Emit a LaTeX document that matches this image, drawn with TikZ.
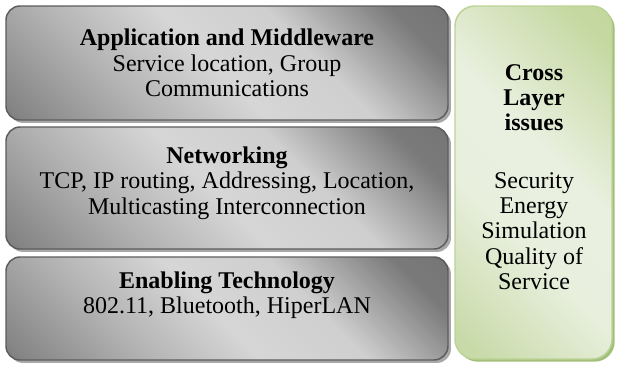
\documentclass[tikz,border=0pt]{standalone}
\usepackage{fontspec}
\setmainfont{Liberation Serif}
\usetikzlibrary{shadows}

\definecolor{layerline}{HTML}{5C5C5C}
\definecolor{layershadow}{HTML}{A8A8A8}
\definecolor{crossline}{HTML}{BCD396}
\definecolor{crossshadow}{HTML}{A3C07A}

% diagonal metallic gradient for the layer boxes
\pgfdeclarehorizontalshading{layershade}{100bp}{%
  color(0bp)=(black!50); color(15bp)=(black!50);
  color(33bp)=(black!30); color(48bp)=(black!16);
  color(62bp)=(black!19); color(78bp)=(black!52);
  color(100bp)=(black!58)}
% pale green gradient for the cross-layer column
\pgfdeclarehorizontalshading{crossshade}{100bp}{%
  color(0bp)=(rgb,255:red,196;green,216;blue,162); color(18bp)=(rgb,255:red,200;green,218;blue,168);
  color(40bp)=(rgb,255:red,232;green,239;blue,221); color(56bp)=(rgb,255:red,234;green,240;blue,224);
  color(80bp)=(rgb,255:red,196;green,216;blue,160);
  color(100bp)=(rgb,255:red,192;green,213;blue,155)}

\begin{document}
\begin{tikzpicture}[x=0.75pt,y=-0.75pt,
  layerbox/.style={draw=layerline, line width=1.1pt, rounded corners=10.5pt,
    shading=layershade, shading angle=45,
    drop shadow={shadow xshift=2.2pt, shadow yshift=-2.2pt,
      fill=layershadow, opacity=1}},
  crossbox/.style={draw=crossline, line width=1.1pt, rounded corners=15pt,
    shading=crossshade, shading angle=45,
    drop shadow={shadow xshift=2pt, shadow yshift=-2pt,
      fill=crossshadow, opacity=1}},
  boxtext/.style={align=center, inner sep=0pt, text=black,
    font=\fontsize{18}{19}\selectfont}]

\useasboundingbox (0,0) rectangle (617,365);

% protocol layers
\path[layerbox] (6,6) rectangle (448,120);
\path[layerbox] (6,127) rectangle (448,249);
\path[layerbox] (6,257) rectangle (448,360);

% cross-layer column
\path[crossbox] (455,6) rectangle (612,359);

% layer contents
\node[boxtext] (app) at (227,63)
  {\textbf{Application and Middleware}\\Service location, Group\\Communications};
\node[boxtext] (net) at (227,183)
  {\textbf{Networking}\\TCP, IP routing, Addressing, Location,\\Multicasting Interconnection};
\node[boxtext] (enab) at (227,295)
  {\textbf{Enabling Technology}\\802.11, Bluetooth, HiperLAN};

% cross-layer contents
\node[boxtext] (cross) at (534,177)
  {\textbf{Cross}\\\textbf{Layer}\\\textbf{issues}\\[24pt]Security\\Energy\\Simulation\\Quality of\\Service};
\end{tikzpicture}
\end{document}
